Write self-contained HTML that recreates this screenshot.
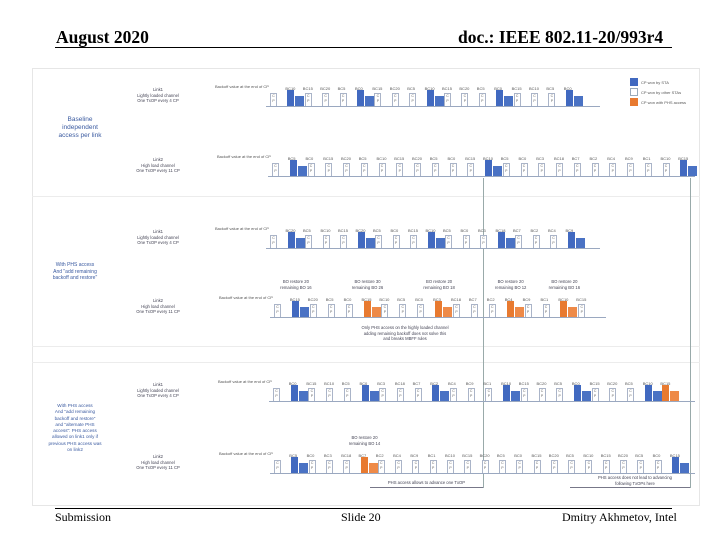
<!DOCTYPE html>
<html><head><meta charset="utf-8"><style>
body{margin:0;background:#fff;}
#slide{position:relative;width:720px;height:540px;overflow:hidden;background:#fff;font-family:"Liberation Sans",sans-serif;}
.abs{position:absolute;}
.hdr{font-family:"Liberation Serif",serif;font-weight:bold;font-size:17.5px;color:#000;}
.ftr{font-family:"Liberation Serif",serif;font-size:12px;color:#000;}
.tiny{font-size:4px;color:#555;white-space:nowrap;line-height:5px;}
.lab{font-size:4.2px;color:#445;text-align:center;line-height:5.5px;white-space:nowrap;}
.sec{font-size:6.5px;color:#3a5aa0;text-align:center;line-height:8px;}
.note{font-size:4.2px;color:#445;text-align:center;line-height:5.5px;white-space:nowrap;}
</style></head><body>
<div id="slide">
  <div class="abs hdr" style="left:56px;top:27px">August 2020</div>
  <div class="abs hdr" style="left:458px;top:27px">doc.: IEEE 802.11-20/993r4</div>
  <div class="abs" style="left:55px;top:47px;width:617px;height:1px;background:#000"></div>
  <div class="abs" style="left:55px;top:508px;width:617px;height:1px;background:#000"></div>
  <div class="abs ftr" style="left:55px;top:510px">Submission</div>
  <div class="abs ftr" style="left:341px;top:510px">Slide 20</div>
  <div class="abs ftr" style="left:562px;top:510px">Dmitry Akhmetov, Intel</div>

  <div class="abs" style="left:32px;top:68px;width:668px;height:438px;border:1px solid #e6e6e6;box-sizing:border-box"></div>
  <div class="abs" style="left:32px;top:196px;width:668px;height:1px;background:#ececec"></div>
  <div class="abs" style="left:32px;top:346px;width:668px;height:1px;background:#ececec"></div>
  <div class="abs" style="left:32px;top:362px;width:668px;height:1px;background:#ececec"></div>

  <div class="abs sec" style="left:45px;top:116px;width:70px">Baseline<br>independent<br>access per link</div>
  <div class="abs sec" style="left:40px;top:262px;width:70px;font-size:5px;line-height:6.5px">With PHS access<br>And "add remaining<br>backoff and restore"</div>
  <div class="abs sec" style="left:40px;top:403px;width:70px;font-size:4.6px;line-height:6.3px">With PHS access<br>And "add remaining<br>backoff and restore"<br>and "alternate PHS<br>access": PHS access<br>allowed on link1 only if<br>previous PHS access was<br>on link2</div>

  <div class="abs" style="left:630px;top:78px;width:8px;height:8px;background:#4169c0"></div>
  <div class="abs tiny" style="left:641px;top:80px">CP won by STA</div>
  <div class="abs" style="left:630px;top:88px;width:8px;height:8px;border:1px solid #9ab;box-sizing:border-box"></div>
  <div class="abs tiny" style="left:641px;top:90px">CP won by other STAs</div>
  <div class="abs" style="left:630px;top:98px;width:8px;height:8px;background:#e87a30"></div>
  <div class="abs tiny" style="left:641px;top:100px">CP won with PHS access</div>

  <div class="abs" style="left:483px;top:178px;width:1px;height:310px;background:#9aa"></div>
  <div class="abs" style="left:690px;top:178px;width:1px;height:310px;background:#9aa"></div>
  <div class="abs" style="left:370px;top:487px;width:113px;height:1px;background:#778"></div>
  <div class="abs note" style="left:370px;top:480px;width:113px">PHS access allows to advance one TxOP</div>
  <div class="abs" style="left:570px;top:487px;width:120px;height:1px;background:#778"></div>
  <div class="abs note" style="left:590px;top:475px;width:90px">PHS access does not lead to advancing<br>following TxOPs here</div>
  <div class="abs note" style="left:350px;top:325px;width:110px">Only PHS access on the highly loaded channel<br>adding remaining backoff does not solve this<br>and breaks MBFF rules</div>

  <div id="rows"></div>
</div>
<script>
// slot sequences: w = CP won by other STAs, b = CP won by STA + TxOP, o = CP won with PHS access + TxOP
var row1Slots = "wbwwwbwwwbwwwbwwwb";
var row2Slots = "wbwwwwwwwwwwbwwwwwwwwwwb";
var row3Slots = "wbwwwbwwwbwwwbwwwb";
var row4Slots = "wbwwwowwwowwwowwow";
var row5Slots = "wbwwwbwwwbwwwbwwwbwwwbo";
var row6Slots = "wbwwwowwwwwwwwwwwwwwwwwb";
var rowLabels = [
 "Link1<br>Lightly loaded channel<br>One TxOP every 4 CP",
 "Link2<br>High load channel<br>One TxOP every 11 CP",
 "Link1<br>Lightly loaded channel<br>One TxOP every 4 CP",
 "Link2<br>High load channel<br>One TxOP every 11 CP",
 "Link1<br>Lightly loaded channel<br>One TxOP every 4 CP",
 "Link2<br>High load channel<br>One TxOP every 11 CP"];
var bcLabels = ["BC10","BC15","BC20","BC5","BC0","BC15","BC20","BC5","BC10","BC15","BC20","BC5","BC0","BC15","BC10","BC5","BC0","BC3","BC18","BC7","BC2","BC4","BC9","BC1"];
var restoreNotes = ["BO restore 20<br>remaining BO 16","BO restore 30<br>remaining BO 26","BO restore 20<br>remaining BO 18","BO restore 20<br>remaining BO 12"];

var layout = [
 {seq:row1Slots,x0:270,pitch:17.4,base:106,lineEnd:600,lx:148,ly:87},
 {seq:row2Slots,x0:272,pitch:17.75,base:176,lineEnd:695,lx:148,ly:157},
 {seq:row3Slots,x0:270,pitch:17.5,base:248,lineEnd:600,lx:148,ly:229},
 {seq:row4Slots,x0:274,pitch:17.9,base:317,lineEnd:606,lx:148,ly:298},
 {seq:row5Slots,x0:273,pitch:17.7,base:401,lineEnd:695,lx:148,ly:382},
 {seq:row6Slots,x0:274,pitch:17.3,base:473,lineEnd:695,lx:148,ly:454}];

var root=document.getElementById('rows');
function add(css,cls,html){var d=document.createElement('div');d.className='abs '+(cls||'');d.style.cssText=css;if(html)d.innerHTML=html;root.appendChild(d);return d;}
layout.forEach(function(r,ri){
  var lab=add('left:'+(r.lx-20)+'px;top:'+r.ly+'px;width:60px;','lab',rowLabels[ri]);
  
  
  var bl=add('left:'+(r.x0-55)+'px;top:'+(r.base-22)+'px;','tiny','Backoff value at the end of CP');
  
  
  var ln=add('left:'+(r.x0-4)+'px;top:'+r.base+'px;width:'+(r.lineEnd-r.x0+4)+'px;height:1px;background:#9aa8c0;');
  
  
  var oi=0;
  for(var i=0;i<r.seq.length;i++){
    var t=r.seq[i], x=r.x0+i*r.pitch;
    if(i>0){
      var bc=add('left:'+(x-2)+'px;top:'+(r.base-20)+'px;','tiny',bcLabels[(i-1+ri*3)%bcLabels.length]);
      
      
    }
    if(t==='w'){
      var s=add('left:'+x+'px;top:'+(r.base-13)+'px;width:7px;height:13px;border:1px solid #aab4c8;border-bottom:none;box-sizing:border-box;background:#fff;font-size:3.5px;color:#666;line-height:5px;text-align:center;','', 'C<br>P');
      
      
    } else {
      var col=t==='b'?'#4169c0':'#e87a30';
      var c=add('left:'+x+'px;top:'+(r.base-16)+'px;width:7px;height:16px;background:'+col+';');
      
      
      var tx=add('left:'+(x+8)+'px;top:'+(r.base-10)+'px;width:9px;height:10px;background:'+(t==='b'?'#4a72c4':'#ee8a48')+';');
      
      
      if(ri===3){
        var n=add('left:'+(x-18)+'px;top:'+(r.base-38)+'px;width:44px;','note',restoreNotes[oi%restoreNotes.length]);
        
        
        oi++;
      }
      if(ri===5&&t==='o'){
        var n2=add('left:'+(x-18)+'px;top:'+(r.base-38)+'px;width:44px;','note','BO restore 20<br>remaining BO 14');
        
        
      }
    }
  }
});
</script>
</body></html>
